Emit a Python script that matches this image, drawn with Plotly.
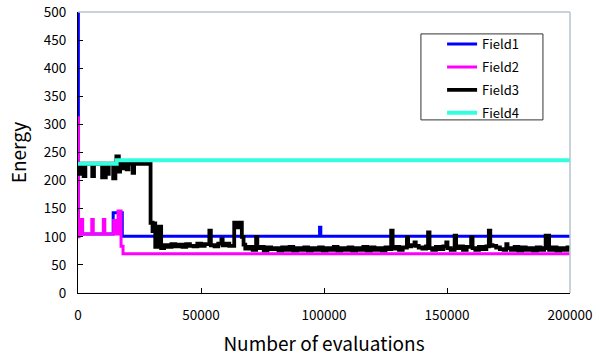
import plotly.graph_objects as go

# ---------------- data ----------------
series_names = ["Field1", "Field2", "Field3", "Field4"]
series_colors = ["#0000ff", "#ff00ff", "#000000", "#33ffe0"]

f1_x = [0, 150, 14300, 18000, 98200, 98700, 200000]
f1_y = [500, 105, 143, 101, 117, 101, 101]

f2_x = [0, 150, 400, 1300, 1900, 5600, 6200, 10300, 10900, 14500, 15100,
        16300, 17500, 18300, 200000]
f2_y = [312, 100, 105, 131, 105, 131, 105, 131, 105, 129, 105,
        146, 83, 70, 70]

f3_x = [0, 800, 2300, 3000, 5800, 6500, 9800, 11300, 11800, 12500, 14300,
        15200, 15600, 16600, 17100, 17700, 18300, 19800, 20500, 22200, 22800,
        29500, 30300, 30900, 31400, 32800, 33800,
        35000, 36500, 38000, 39500, 41000, 42500, 44000, 45500, 47000, 48500,
        50000, 51500, 53400, 54000, 55500, 57000, 58300, 58800, 60000, 61500,
        63500, 64600, 65600, 66600, 67300, 68000, 69500, 71000, 72400, 72900,
        74000, 75500, 77000, 78500, 80000, 81500, 83000, 84500, 86000, 87500,
        89000, 90500, 92000, 93500, 95000, 96500, 98000, 99500, 101000, 102500,
        104000, 105500, 107000, 108500, 110000, 111500, 113000, 114500, 116000,
        117500, 119000, 120500, 122000, 123500, 125000, 126500, 127300, 127900,
        129000, 130500, 132000, 133700, 134200, 135500, 136800, 137300, 138500,
        140000, 141500, 142300, 142900, 144000, 145500, 147000, 148500, 149700,
        150200, 151500, 153100, 153700, 155000, 156500, 158000, 159800, 160400,
        161500, 163000, 164500, 166000, 167000, 167600, 168500, 170000, 171500,
        173000, 174100, 174600, 176000, 177500, 179000, 180500, 182000, 183500,
        185000, 186500, 188000, 189500, 190100, 191500, 193000, 194500, 196000,
        197500, 199000, 200000]
f3_y = [212, 230, 208, 230, 208, 230, 206, 230, 212, 230, 204,
        230, 243, 216, 230, 222, 230, 220, 230, 214, 230,
        125, 110, 124, 82, 118, 80,
        85, 82, 87, 83, 86, 82, 87, 84, 83, 88,
        84, 87, 111, 85, 83, 88, 96, 85, 88, 84,
        125, 117, 125, 100, 86, 79, 82, 77, 100, 80,
        82, 76, 81, 78, 80, 76, 81, 77, 82, 76,
        80, 77, 81, 76, 80, 77, 81, 76, 80, 77,
        82, 76, 80, 77, 81, 76, 80, 77, 82,
        76, 81, 77, 80, 76, 81, 78, 111, 79,
        82, 77, 81, 99, 83, 85, 90, 84, 81,
        79, 83, 108, 80, 77, 82, 78, 83, 90,
        80, 77, 102, 80, 83, 77, 82, 99, 80,
        77, 82, 78, 83, 111, 85, 84, 81, 78,
        77, 87, 80, 77, 82, 76, 81, 77, 80,
        76, 81, 77, 80, 102, 77, 81, 76, 80,
        77, 81, 78]

f4_x = [0, 15700, 200000]
f4_y = [230, 236, 236]

x_ticks = [0, 50000, 100000, 150000, 200000]
y_ticks = [0, 50, 100, 150, 200, 250, 300, 350, 400, 450, 500]

x_title = "Number of evaluations"
y_title = "Energy"

# ---------------- figure ----------------
FONT = "Noto Sans CJK JP"
widths = [3, 3, 3.8, 4]
xs = [f1_x, f2_x, f3_x, f4_x]
ys = [f1_y, f2_y, f3_y, f4_y]

fig = go.Figure()
for i, (name, color, w, x, y) in enumerate(zip(series_names, series_colors, widths, xs, ys)):
    fig.add_trace(go.Scatter(x=x, y=y, name=name, mode="lines",
                             legendgroup="g%d" % i,
                             line=dict(color=color, width=w, shape="hv")))

fig.update_layout(
    width=601, height=358,
    margin=dict(l=78, r=31, t=12, b=65),
    paper_bgcolor="white", plot_bgcolor="white",
    font=dict(family=FONT, color="black", size=13),
    showlegend=True,
    legend=dict(x=0.74, y=0.939, xanchor="left", yanchor="top",
                bgcolor="rgba(0,0,0,0)", borderwidth=0,
                font=dict(family=FONT, size=13), tracegroupgap=3,
                itemwidth=30),
)
fig.update_xaxes(range=[0, 200000], tickvals=x_ticks,
                 ticktext=[str(v) for v in x_ticks],
                 ticks="inside", ticklen=5, tickcolor="black",
                 showline=True, linecolor="black", linewidth=1,
                 showgrid=False, zeroline=False, automargin=False,
                 ticklabelstandoff=10, ticklabeloverflow="allow",
                 title=dict(text=x_title, font=dict(size=19), standoff=14),
                 tickfont=dict(size=13.5))
fig.update_yaxes(range=[0, 500], tickvals=y_ticks,
                 ticks="inside", ticklen=5, tickcolor="black",
                 showline=True, linecolor="black", linewidth=1,
                 showgrid=False, zeroline=False, automargin=False,
                 ticklabelstandoff=8, ticklabeloverflow="allow",
                 title=dict(text=y_title, font=dict(size=19), standoff=12),
                 tickfont=dict(size=13.5))
# light grey frame on top and right
fig.add_shape(type="line", xref="paper", yref="paper", x0=0, x1=1, y0=1, y1=1,
              line=dict(color="#b4c4cc", width=1.5))
fig.add_shape(type="line", xref="paper", yref="paper", x0=1, x1=1, y0=0, y1=1,
              line=dict(color="#b4c4cc", width=1.5))
# legend frame
fig.add_shape(type="rect", xref="paper", yref="paper",
              x0=0.697, x1=0.945, y0=0.616, y1=0.922,
              line=dict(color="#333333", width=1), fillcolor="white",
              layer="above")

fig.write_html("out.html", config={"displayModeBar": False},
               post_script="document.body.style.margin='0';")
